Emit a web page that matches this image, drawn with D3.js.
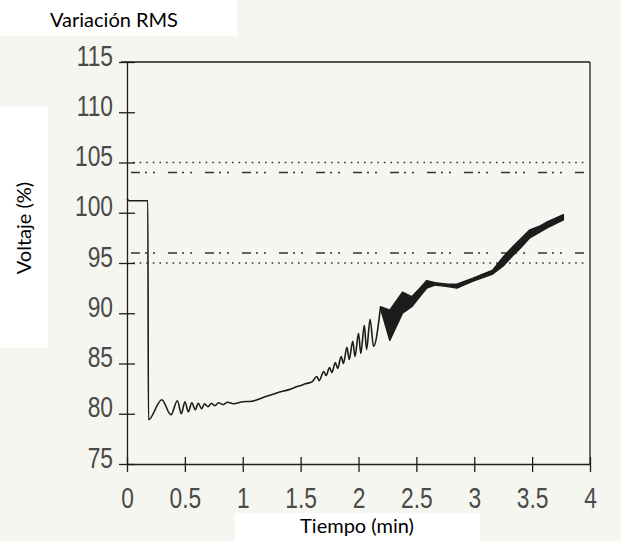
<!DOCTYPE html>
<html>
<head>
<meta charset="utf-8">
<script src="https://cdn.jsdelivr.net/npm/d3@7"></script>
<style>
  html, body { margin: 0; padding: 0; background: #f6f6f1; }
  svg { display: block; }
</style>
</head>
<body>
<svg id="chart" width="621" height="541"></svg>
<script>
//
// Data
//

// axis ticks
var xTicks = [0, 0.5, 1, 1.5, 2, 2.5, 3, 3.5, 4]
var yTicks = [75, 80, 85, 90, 95, 100, 105, 110, 115]

// limit lines (% of nominal)
var dottedLimits = [105, 95]
var dashDotLimits = [104, 96]

// RMS voltage trace before the dense part: [time (min), voltage (%)]
var trace = [
  [0, 101.4], [0.02, 101.2], [0.18, 101.2], [0.185, 79.4],
  [0.30, 81.4], [0.38, 79.9], [0.435, 81.3], [0.47, 80.0], [0.50, 81.2],
  [0.53, 80.2], [0.56, 81.1], [0.59, 80.4], [0.615, 81.05], [0.645, 80.5],
  [0.67, 81.0], [0.70, 80.7], [0.73, 81.05], [0.76, 80.8], [0.79, 81.1],
  [0.83, 80.9], [0.87, 81.15], [0.92, 81.0], [1.0, 81.2], [1.08, 81.25],
  [1.15, 81.5], [1.22, 81.8], [1.30, 82.1], [1.40, 82.4], [1.47, 82.7],
  [1.55, 83.0], [1.60, 83.2], [1.64, 83.7], [1.66, 83.3], [1.70, 84.2],
  [1.72, 83.8], [1.75, 84.6], [1.77, 84.1], [1.80, 85.1], [1.82, 84.5],
  [1.85, 85.7], [1.87, 85.0], [1.90, 86.6], [1.92, 85.4], [1.95, 87.2],
  [1.97, 85.7], [2.00, 88.0], [2.02, 86.0], [2.05, 88.8], [2.07, 86.4],
  [2.10, 89.4], [2.13, 86.7], [2.19, 90.6]
]

// dense oscillation shown as a dark band: time, upper and lower envelope
var bandT  = [2.19, 2.27, 2.38, 2.46, 2.53, 2.59, 2.66, 2.77, 2.85, 2.99, 3.16, 3.25, 3.33, 3.40, 3.48, 3.57, 3.63, 3.77]
var bandHi = [90.65, 90.3, 92.1, 91.65, 92.5, 93.25, 93.05, 92.9, 92.9, 93.5, 94.3, 95.6, 96.6, 97.4, 98.3, 98.7, 99.1, 99.8]
var bandLo = [90.5, 87.3, 90.0, 90.65, 91.65, 92.5, 92.8, 92.65, 92.5, 93.2, 93.9, 94.7, 95.7, 96.5, 97.5, 98.1, 98.5, 99.3]

//
// Setup
//

var svg = d3.select('#chart')
var x = d3.scaleLinear().domain([0, 4]).range([127, 590])
var y = d3.scaleLinear().domain([75, 115]).range([464, 62])
var ink = '#1c1c1c'
var squeeze = 0.76 // condensed look of the tick digits

// white label patches of the scan
svg.append('rect').attr('x', 0).attr('y', 0).attr('width', 237).attr('height', 36).attr('fill', '#fff')
svg.append('rect').attr('x', 0).attr('y', 107).attr('width', 48).attr('height', 241).attr('fill', '#fff')
svg.append('rect').attr('x', 235).attr('y', 513).attr('width', 245).attr('height', 28).attr('fill', '#fff')

svg.append('text')
  .attr('x', 114).attr('y', 27)
  .attr('text-anchor', 'middle')
  .style('font', '20px Lato, sans-serif')
  .text('Variación RMS')

svg.append('text')
  .attr('transform', 'translate(31,228) rotate(-90)')
  .attr('text-anchor', 'middle')
  .style('font', '20px Lato, sans-serif')
  .text('Voltaje (%)')

svg.append('text')
  .attr('x', 357).attr('y', 533)
  .attr('text-anchor', 'middle')
  .style('font', '20px Lato, sans-serif')
  .text('Tiempo (min)')

//
// Axes and frame
//

var gx = svg.append('g')
  .attr('transform', 'translate(0,' + y(75) + ')')
  .call(d3.axisBottom(x).tickValues(xTicks).tickSize(8).tickSizeOuter(0).tickFormat(function(d) { return String(d) }))
gx.selectAll('.tick line').attr('y1', -7)
gx.selectAll('.tick text')
  .attr('y', 44).attr('dy', 0)
  .attr('transform', 'scale(' + squeeze + ',1)')

var gy = svg.append('g')
  .attr('transform', 'translate(' + x(0) + ',0)')
  .call(d3.axisLeft(y).tickValues(yTicks).tickSize(8).tickSizeOuter(0))
gy.selectAll('.tick line').attr('x1', 8)
gy.selectAll('.tick text')
  .attr('x', -14 / squeeze).attr('dy', 0).attr('y', 3)
  .attr('transform', 'scale(' + squeeze + ',1)')

svg.selectAll('.domain, .tick line').attr('stroke', ink).attr('stroke-width', 1.3)
svg.selectAll('.tick text')
  .attr('fill', '#4a4a4a')
  .style('font-family', '"Liberation Sans", Arial, sans-serif')
  .style('font-size', '30px')

svg.append('line')
  .attr('x1', x(0) - 6).attr('x2', x(4)).attr('y1', y(115)).attr('y2', y(115))
  .attr('stroke', ink).attr('stroke-width', 1.3)
svg.append('line')
  .attr('x1', x(4)).attr('x2', x(4)).attr('y1', y(115)).attr('y2', y(75))
  .attr('stroke', ink).attr('stroke-width', 1.3)

//
// Limit lines
//

svg.selectAll('.dotted')
  .data(dottedLimits)
  .enter().append('line')
  .attr('class', 'dotted')
  .attr('x1', x(0) + 6).attr('x2', x(4) - 2)
  .attr('y1', function(d) { return y(d) }).attr('y2', function(d) { return y(d) })
  .attr('stroke', '#333').attr('stroke-width', 1.4)
  .attr('stroke-dasharray', '1.6,5')

svg.selectAll('.dashdot')
  .data(dashDotLimits)
  .enter().append('line')
  .attr('class', 'dashdot')
  .attr('x1', x(0) + 4).attr('x2', x(4) - 2)
  .attr('y1', function(d) { return y(d) }).attr('y2', function(d) { return y(d) })
  .attr('stroke', '#333').attr('stroke-width', 1.6)
  .attr('stroke-dasharray', '9,5,2,6,2,13')

//
// Voltage trace
//

var line = d3.line()
  .curve(d3.curveMonotoneX)
  .x(function(d) { return x(d[0]) })
  .y(function(d) { return y(d[1]) })

svg.append('path')
  .datum(trace)
  .attr('d', line)
  .attr('fill', 'none')
  .attr('stroke', ink)
  .attr('stroke-width', 1.6)
  .attr('stroke-linejoin', 'round')

var area = d3.area()
  .x(function(d, i) { return x(bandT[i]) })
  .y0(function(d, i) { return y(bandLo[i]) })
  .y1(function(d, i) { return y(bandHi[i]) })

svg.append('path')
  .datum(bandT)
  .attr('d', area)
  .attr('fill', ink)
  .attr('stroke', ink)
  .attr('stroke-width', 1.4)
  .attr('stroke-linejoin', 'round')
</script>
</body>
</html>
